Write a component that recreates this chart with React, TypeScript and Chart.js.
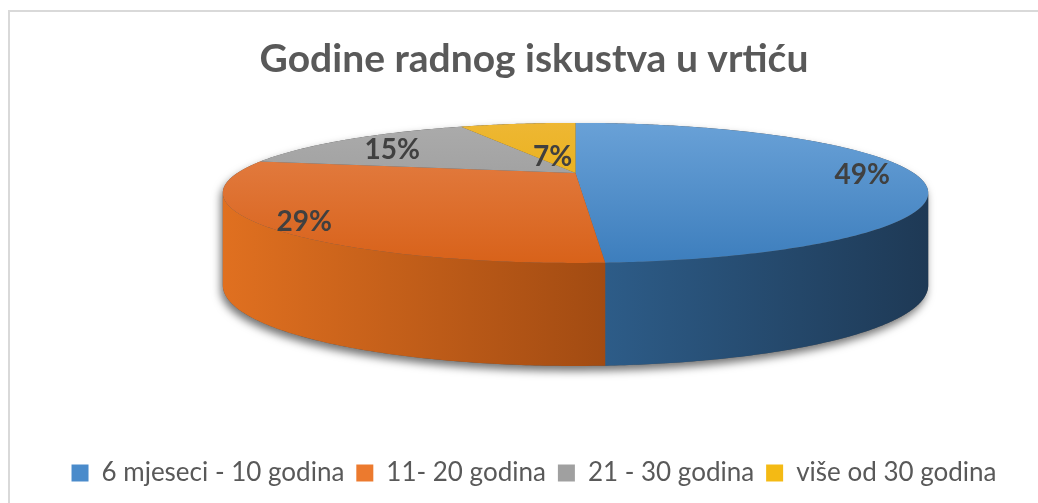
import { useEffect, useRef } from "react";
import { Chart, registerables } from "chart.js";

Chart.register(...registerables);

const titleText = "Godine radnog iskustva u vrtiću";
const categories = ["6 mjeseci - 10 godina", "11- 20 godina", "21 - 30 godina", "više od 30 godina"];
const shares = [49, 29, 15, 7];
const percentLabels = ["49%", "29%", "15%", "7%"];

const legendColors = ["#4A8BCB", "#EC7A2E", "#A0A0A0", "#F4BA14"];
const topColors = [
  ["#69A1D7", "#3D7EBD"],
  ["#E5824A", "#D8621A"],
  ["#ABABAB", "#939393"],
  ["#EEB733", "#E4AA00"],
];
const wallColors = [
  ["#2D5C88", "#1E3955"],
  ["#E07020", "#A24B12"],
  ["#8A8A8A", "#6E6E6E"],
  ["#C99600", "#A07800"],
];

const pie3d = {
  id: "pie3d",
  beforeDatasetsDraw(chart: any, _args: any, opts: any) {
    const meta = chart.getDatasetMeta(0);
    const arcs = meta.data;
    if (!arcs || !arcs.length) return false;
    const ctx: CanvasRenderingContext2D = chart.ctx;
    const a0 = arcs[0];
    const cx = a0.x + opts.shiftX;
    const cy = a0.y + opts.shiftY;
    const { rx, ry, tilt, depth, depthTilt } = opts;
    const proj = (th: number, r: number, h: number) => {
      const u = r * Math.sin(th);
      const w = r * Math.cos(th);
      const d = 1 + tilt * w;
      return [cx + (rx * u) / d, cy - (ry * w) / d + (h * depth) / (1 + depthTilt * w)];
    };
    const toTheta = (phi: number) => phi + Math.PI / 2;
    const thMin = Math.acos(-tilt);
    const thMax = 2 * Math.PI - thMin;
    const edge = (a: number, b: number, h: number, first: boolean) => {
      const n = Math.max(2, Math.ceil(Math.abs(b - a) / 0.01));
      for (let k = 0; k <= n; k++) {
        const t = a + ((b - a) * k) / n;
        const p = proj(t, 1, h);
        if (first && k === 0) ctx.moveTo(p[0], p[1]);
        else ctx.lineTo(p[0], p[1]);
      }
    };

    ctx.save();
    ctx.beginPath();
    edge(thMax, 2 * Math.PI + thMin, 0, true);
    edge(thMin, thMax, 1, false);
    ctx.closePath();
    ctx.shadowColor = "rgba(0,0,0,0.55)";
    ctx.shadowBlur = 9;
    ctx.shadowOffsetY = 5;
    ctx.shadowOffsetX = -2;
    ctx.fillStyle = "#555";
    ctx.fill();
    ctx.restore();

    const angles = arcs.map((arc: any) => [toTheta(arc.startAngle), toTheta(arc.endAngle)]);

    angles.forEach(([s, e]: number[], i: number) => {
      const a = Math.max(s, thMin);
      const b = Math.min(e, thMax);
      if (a >= b) return;
      const pa = proj(a, 1, 0);
      const pb = proj(b, 1, 0);
      ctx.beginPath();
      edge(a, b, 0, true);
      edge(b, a, 1, false);
      ctx.closePath();
      const g = ctx.createLinearGradient(Math.min(pa[0], pb[0]), 0, Math.max(pa[0], pb[0]), 0);
      g.addColorStop(0, wallColors[i][0]);
      g.addColorStop(1, wallColors[i][1]);
      ctx.fillStyle = g;
      ctx.fill();
    });

    const yTop = proj(0, 1, 0)[1];
    const yBot = proj(Math.PI, 1, 0)[1];
    angles.forEach(([s, e]: number[], i: number) => {
      ctx.beginPath();
      ctx.moveTo(cx, cy);
      edge(s, e, 0, false);
      ctx.closePath();
      const g = ctx.createLinearGradient(0, yTop, 0, yBot);
      g.addColorStop(0, topColors[i][0]);
      g.addColorStop(1, topColors[i][1]);
      ctx.fillStyle = g;
      ctx.fill();
    });

    ctx.save();
    ctx.font = opts.labelFont;
    ctx.fillStyle = opts.labelColor;
    ctx.textAlign = "center";
    ctx.textBaseline = "middle";
    angles.forEach(([s, e]: number[], i: number) => {
      const p = proj((s + e) / 2, opts.labelRadius[i], 0);
      ctx.fillText(percentLabels[i], p[0], p[1] + opts.labelDy);
    });
    ctx.restore();
    return false;
  },
};

export default function App() {
  const ref = useRef<HTMLCanvasElement>(null);
  useEffect(() => {
    if (!ref.current) return;
    const chart = new Chart(ref.current, {
      type: "pie",
      data: {
        labels: categories,
        datasets: [
          {
            data: shares,
            backgroundColor: legendColors,
            borderWidth: 0,
          },
        ],
      },
      options: {
        responsive: false,
        animation: false,
        events: [],
        layout: { padding: { bottom: 6 } },
        plugins: {
          tooltip: { enabled: false },
          title: {
            display: true,
            text: titleText,
            color: "#595959",
            font: { family: "Lato", size: 39, weight: "bold" },
            padding: { top: 24, bottom: 10 },
          },
          legend: {
            position: "bottom",
            labels: {
              color: "#595959",
              font: { family: "Lato", size: 26 },
              boxWidth: 17,
              boxHeight: 17,
              padding: 12,
            },
          },
          pie3d: {
            shiftX: 41.5,
            shiftY: -97.5,
            rx: 338,
            ry: 64.3,
            tilt: 0.2857,
            depth: 88.6,
            depthTilt: 0.14,
            labelRadius: [0.855, 0.89, 0.78, 0.34],
            labelDy: 4,
            labelFont: "bold 28px Lato",
            labelColor: "#404040",
          },
        } as any,
      },
      plugins: [pie3d],
    });
    return () => chart.destroy();
  }, []);
  return (
    <div style={{ position: "fixed", left: 0, top: 0, width: 1038, height: 503, overflow: "hidden", background: "#fff" }}>
      <div
        style={{
          position: "absolute",
          left: 8,
          top: 10,
          width: 1100,
          height: 520,
          borderLeft: "2px solid #d9d9d9",
          borderTop: "2px solid #d9d9d9",
        }}
      >
        <canvas ref={ref} width={1048} height={490} style={{ display: "block", width: 1048, height: 490 }} />
      </div>
    </div>
  );
}
